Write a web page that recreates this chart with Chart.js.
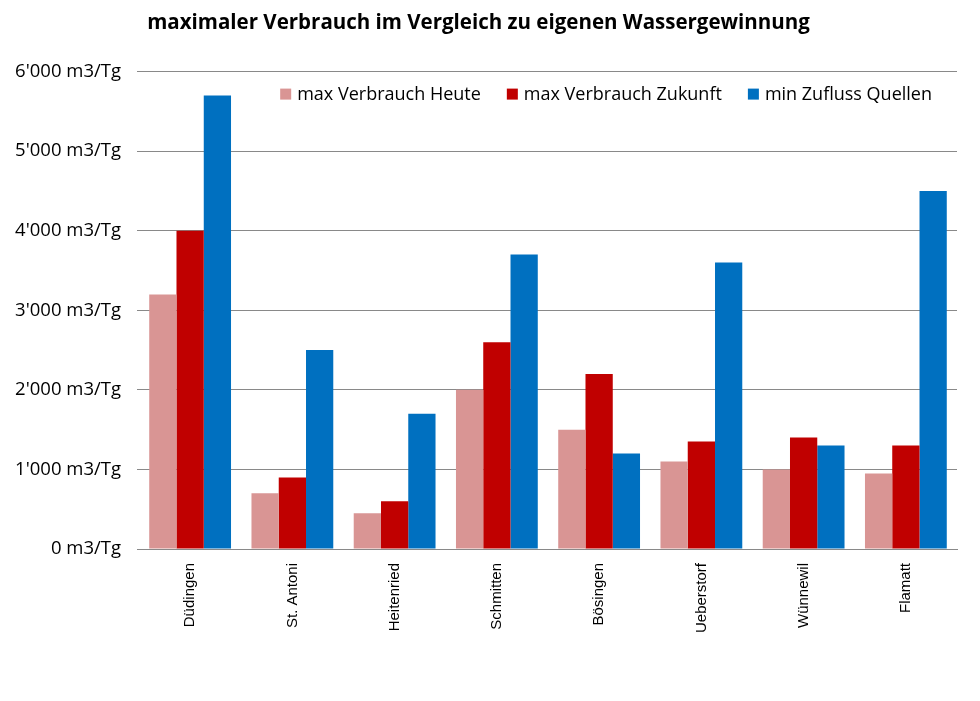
<!DOCTYPE html>
<html>
<head>
<meta charset="utf-8">
<script src="https://cdn.jsdelivr.net/npm/chart.js@4/dist/chart.umd.min.js"></script>
<style>
html,body{margin:0;padding:0;background:#fff;}
#wrap{width:980px;height:701px;}
</style>
</head>
<body>
<div id="wrap"><canvas id="c" width="980" height="701"></canvas></div>
<script>
const categories = ['Düdingen','St. Antoni','Heitenried','Schmitten','Bösingen','Ueberstorf','Wünnewil','Flamatt'];
const maxHeute   = [3200, 700, 450, 2000, 1500, 1100, 1000, 950];
const maxZukunft = [4000, 900, 600, 2600, 2200, 1350, 1400, 1300];
const minZufluss = [5700, 2500, 1700, 3700, 1200, 3600, 1300, 4500];
const yTickLabels = ["0 m3/Tg","1'000 m3/Tg","2'000 m3/Tg","3'000 m3/Tg","4'000 m3/Tg","5'000 m3/Tg","6'000 m3/Tg"];

const sans = "'Open Sans', 'Noto Sans', sans-serif";

// Legend drawn inside the plot area, top right (as in the reference)
const innerLegend = {
  id: 'innerLegend',
  afterDraw(chart) {
    const ctx = chart.ctx;
    const area = chart.chartArea;
    const fontSize = 18;
    ctx.save();
    ctx.font = fontSize + "px " + sans;
    ctx.textBaseline = 'middle';
    ctx.textAlign = 'left';
    const box = 11, gapBox = 6, gapItem = 26;
    const items = chart.data.datasets.map(d => ({text: d.label, color: d.backgroundColor, w: ctx.measureText(d.label).width}));
    let x = area.right - 25;
    const yMid = area.top + 23;
    for (let i = items.length - 1; i >= 0; i--) {
      const it = items[i];
      const tx = x - it.w;
      ctx.fillStyle = '#000';
      ctx.fillText(it.text, tx, yMid);
      ctx.fillStyle = it.color;
      ctx.fillRect(tx - gapBox - box, yMid - box / 2 - 0.5, box, box);
      x = tx - gapBox - box - gapItem;
    }
    ctx.restore();
  }
};

new Chart(document.getElementById('c'), {
  type: 'bar',
  data: {
    labels: categories,
    datasets: [
      {label: 'max Verbrauch Heute', data: maxHeute, backgroundColor: '#D99594'},
      {label: 'max Verbrauch Zukunft', data: maxZukunft, backgroundColor: '#C00000'},
      {label: 'min Zufluss Quellen', data: minZufluss, backgroundColor: '#0070C0'}
    ]
  },
  plugins: [innerLegend],
  options: {
    responsive: false,
    animation: false,
    layout: {padding: {left: 0, right: 23, top: 0, bottom: 0}},
    datasets: {bar: {categoryPercentage: 0.8, barPercentage: 1.0}},
    plugins: {
      title: {
        display: true,
        text: 'maximaler Verbrauch im Vergleich zu eigenen Wassergewinnung',
        color: '#000',
        font: {family: sans, size: 20.5, weight: 'bold'},
        padding: {top: 11, bottom: 36}
      },
      legend: {display: false},
      tooltip: {enabled: false}
    },
    scales: {
      x: {
        grid: {display: false},
        border: {display: true, color: '#898989'},
        ticks: {
          color: '#000',
          font: {family: "'Liberation Sans', Arial, sans-serif", size: 15},
          minRotation: 90, maxRotation: 90,
          padding: 6
        },
        afterFit: s => { s.height = 152; }
      },
      y: {
        min: 0, max: 6000,
        border: {display: false},
        grid: {color: '#898989', lineWidth: 1, drawTicks: true, tickLength: 2},
        ticks: {
          stepSize: 1000,
          color: '#000',
          font: {family: sans, size: 18.5},
          padding: 16,
          callback: (v, i) => yTickLabels[i]
        },
        afterFit: s => { s.width = 139; }
      }
    }
  }
});
</script>
</body>
</html>
